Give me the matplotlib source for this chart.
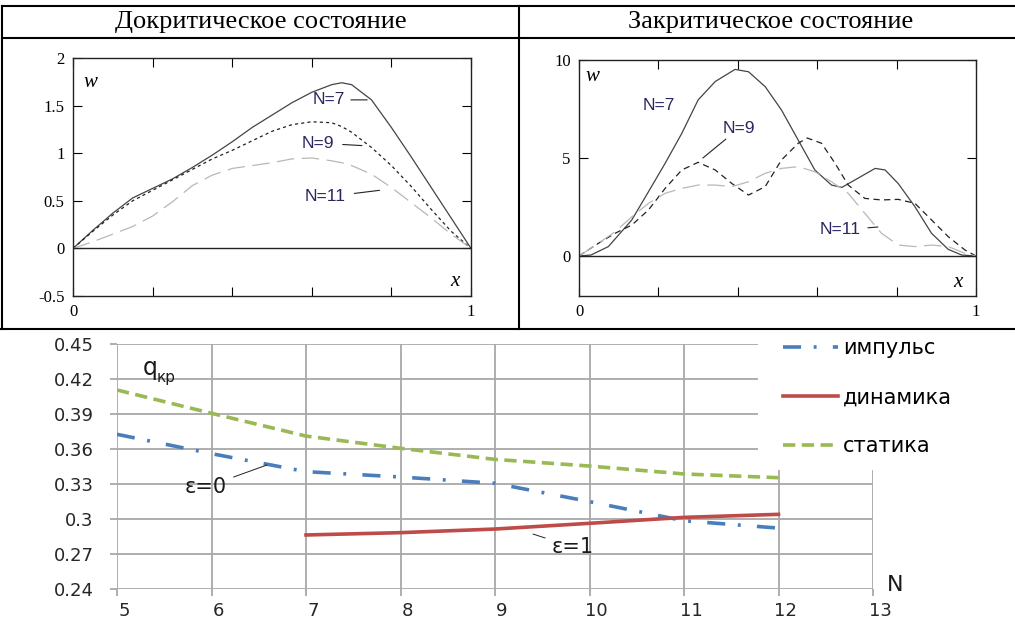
import matplotlib
matplotlib.use("Agg")
import matplotlib.pyplot as plt
from matplotlib.lines import Line2D
from matplotlib.patches import Rectangle
from matplotlib.transforms import ScaledTranslation

# ---------------- data ----------------
# pre-critical state (left top panel)
pre_x = [0, 0.05, 0.1, 0.15, 0.2, 0.25, 0.3, 0.35, 0.4, 0.45, 0.5, 0.55, 0.6, 0.65, 0.675, 0.7, 0.75, 0.8, 0.85, 0.9, 0.95, 1.0]
pre_n7 = [0, 0.19, 0.37, 0.53, 0.63, 0.73, 0.85, 0.98, 1.12, 1.27, 1.40, 1.53, 1.64, 1.72, 1.74, 1.72, 1.56, 1.27, 0.96, 0.64, 0.32, 0]
pre_n9 = [0, 0.18, 0.35, 0.50, 0.61, 0.72, 0.83, 0.94, 1.03, 1.13, 1.23, 1.30, 1.33, 1.32, 1.28, 1.22, 1.06, 0.87, 0.65, 0.41, 0.18, 0]
pre_n11 = [0, 0.07, 0.15, 0.23, 0.34, 0.49, 0.66, 0.77, 0.84, 0.87, 0.90, 0.94, 0.95, 0.92, 0.90, 0.87, 0.78, 0.64, 0.48, 0.32, 0.15, 0]

# post-critical state (right top panel)
post_x7 = [0, 0.03, 0.074, 0.133, 0.175, 0.217, 0.259, 0.30, 0.343, 0.393, 0.427, 0.469, 0.51, 0.552, 0.594, 0.636, 0.662, 0.695, 0.746, 0.771, 0.804, 0.846, 0.888, 0.93, 0.964, 1.0]
post_n7 = [0, 0.05, 0.48, 1.84, 3.28, 4.73, 6.26, 7.96, 8.9, 9.52, 9.4, 8.64, 7.45, 5.92, 4.39, 3.62, 3.5, 3.88, 4.47, 4.39, 3.7, 2.52, 1.16, 0.34, 0.05, 0]
post_x9 = [0, 0.049, 0.091, 0.133, 0.175, 0.217, 0.259, 0.30, 0.343, 0.385, 0.427, 0.469, 0.51, 0.552, 0.575, 0.611, 0.645, 0.678, 0.72, 0.762, 0.804, 0.846, 0.888, 0.93, 0.972, 1.0]
post_n9 = [0, 0.65, 1.16, 1.58, 2.35, 3.45, 4.39, 4.78, 4.39, 3.7, 3.11, 3.54, 4.9, 5.75, 6.02, 5.75, 4.73, 3.62, 2.94, 2.86, 2.89, 2.69, 1.84, 0.99, 0.31, 0]
post_x11 = [0, 0.049, 0.091, 0.133, 0.175, 0.217, 0.259, 0.30, 0.343, 0.385, 0.427, 0.469, 0.51, 0.552, 0.594, 0.636, 0.678, 0.72, 0.762, 0.804, 0.846, 0.888, 0.93, 0.972, 1.0]
post_n11 = [0, 0.65, 1.24, 2.0, 2.69, 3.2, 3.45, 3.62, 3.62, 3.54, 3.79, 4.22, 4.47, 4.56, 4.3, 3.79, 3.2, 2.18, 1.16, 0.56, 0.48, 0.56, 0.48, 0.14, 0]

# critical load vs N (bottom chart)
N_imp = [5, 6, 7, 8, 9, 10, 11, 12]
q_imp = [0.3726, 0.356, 0.3406, 0.336, 0.3306, 0.3149, 0.2985, 0.2922]
N_dyn = [7, 8, 9, 10, 11, 12]
q_dyn = [0.2863, 0.2883, 0.2914, 0.2963, 0.3014, 0.3040]
N_stat = [5, 6, 7, 8, 9, 10, 11, 12]
q_stat = [0.4106, 0.3906, 0.3711, 0.3606, 0.3511, 0.3454, 0.3386, 0.3354]

q_ticks = [0.24, 0.27, 0.30, 0.33, 0.36, 0.39, 0.42, 0.45]
q_ticklabels = ["0.24", "0.27", "0.3", "0.33", "0.36", "0.39", "0.42", "0.45"]
N_ticks = [5, 6, 7, 8, 9, 10, 11, 12, 13]

legend_labels = ["импульс", "динамика", "статика"]
titles = ["Докритическое состояние", "Закритическое состояние"]

# ---------------- layout helpers ----------------
W, H = 1015, 619
fig = plt.figure(figsize=(W / 100, H / 100), dpi=100)
fig.patch.set_facecolor("white")


def rect(l, t, r, b):
    return [l / W, 1 - b / H, (r - l) / W, (b - t) / H]


def fline(x0, y0, x1, y1, lw=1.5):
    fig.add_artist(Line2D([x0 / W, x1 / W], [1 - y0 / H, 1 - y1 / H],
                          transform=fig.transFigure, color="black", lw=lw, zorder=10))


# table frame
fline(2, 6, 1015, 6)
fline(2, 38, 1015, 38)
fline(0, 329, 1015, 329)
fline(2, 6, 2, 329)
fline(519, 6, 519, 329)

serif = "Liberation Serif"
fig.text(261 / W, 1 - 22 / H, titles[0], ha="center", va="center", family=serif, fontsize=19)
fig.text(771 / W, 1 - 22 / H, titles[1], ha="center", va="center", family=serif, fontsize=19)

label_col = "#2a2660"


def style_top(ax, ylim, yticks, yticklabels):
    ax.set_xlim(0, 1)
    ax.set_ylim(*ylim)
    ax.set_xticks([0, 0.2, 0.4, 0.6, 0.8, 1.0])
    ax.set_xticklabels(["0", "", "", "", "", "1"])
    ax.set_yticks(yticks)
    ax.set_yticklabels(yticklabels)
    ax.tick_params(direction="in", length=6.5, width=0.8, top=True, right=True,
                   labelsize=12, pad=6)
    for lab in ax.get_xticklabels() + ax.get_yticklabels():
        lab.set_family(serif)
    for s in ax.spines.values():
        s.set_linewidth(1.0)
        s.set_color("#222222")
    ax.axhline(0, color="#222222", lw=1.0)


# ---------------- top-left ----------------
ax1 = fig.add_axes(rect(73, 58, 471, 296))
ax1.plot(pre_x, pre_n7, color="#444444", lw=0.9)
ax1.plot(pre_x, pre_n9, color="#222222", lw=0.9, linestyle=(0, (2.5, 2.5)))
ax1.plot(pre_x, pre_n11, color="#b8b8b8", lw=0.9, linestyle=(0, (14, 6)))
style_top(ax1, (-0.5, 2), [-0.5, 0, 0.5, 1, 1.5, 2], ["-0.5", "0", "0.5", "1", "1.5", "2"])
ax1.text(0.043, 0.899, "w", transform=ax1.transAxes, family=serif, style="italic",
         fontsize=15, ha="center", va="center")
ax1.text(0.96, 0.059, "x", transform=ax1.transAxes, family=serif, style="italic",
         fontsize=15, ha="center", va="center")
ax1.annotate("N=7", xy=(0.739, 1.56), xytext=(0.603, 1.56), va="center", ha="left",
             fontsize=12.5, color=label_col, family="Liberation Sans",
             arrowprops=dict(arrowstyle="-", color="#222222", lw=0.8, shrinkA=2, shrinkB=0))
ax1.annotate("N=9", xy=(0.726, 1.08), xytext=(0.575, 1.106), va="center", ha="left",
             fontsize=12.5, color=label_col, family="Liberation Sans",
             arrowprops=dict(arrowstyle="-", color="#222222", lw=0.8, shrinkA=4, shrinkB=0))
ax1.annotate("N=11", xy=(0.77, 0.61), xytext=(0.583, 0.54), va="center", ha="left",
             fontsize=12.5, color=label_col, family="Liberation Sans",
             arrowprops=dict(arrowstyle="-", color="#222222", lw=0.8, shrinkA=4, shrinkB=0))

# ---------------- top-right ----------------
ax2 = fig.add_axes(rect(579, 60, 976, 296))
ax2.plot(post_x7, post_n7, color="#444444", lw=0.9)
ax2.plot(post_x9, post_n9, color="#222222", lw=0.9, linestyle=(0, (5, 3.5)))
ax2.plot(post_x11, post_n11, color="#b8b8b8", lw=0.9, linestyle=(0, (14, 6)))
style_top(ax2, (-2.04, 10), [0, 5, 10], ["0", "5", "10"])
ax2.text(0.035, 0.928, "w", transform=ax2.transAxes, family=serif, style="italic",
         fontsize=15, ha="center", va="center")
ax2.text(0.955, 0.059, "x", transform=ax2.transAxes, family=serif, style="italic",
         fontsize=15, ha="center", va="center")
ax2.text(0.161, 7.7, "N=7", va="center", ha="left", fontsize=12.5, color=label_col,
         family="Liberation Sans")
ax2.annotate("N=9", xy=(0.312, 5.0), xytext=(0.363, 6.53), va="center", ha="left",
             fontsize=12.5, color=label_col, family="Liberation Sans",
             arrowprops=dict(arrowstyle="-", color="#222222", lw=0.8, shrinkA=1, shrinkB=0))
ax2.annotate("N=11", xy=(0.753, 1.48), xytext=(0.607, 1.33), va="center", ha="left",
             fontsize=12.5, color=label_col, family="Liberation Sans",
             arrowprops=dict(arrowstyle="-", color="#222222", lw=0.8, shrinkA=3, shrinkB=0))

# ---------------- bottom chart ----------------
grid_col = "#a8a8a8"
ax3 = fig.add_axes(rect(117, 344, 873, 589))
ax3.set_xlim(5, 13)
ax3.set_ylim(0.24, 0.45)
ax3.set_xticks(N_ticks)
ax3.set_xticklabels([str(n) for n in N_ticks])
ax3.set_yticks(q_ticks)
ax3.set_yticklabels(q_ticklabels)
ax3.set_axisbelow(True)
ax3.grid(True, color=grid_col, lw=1.3)
for s in ax3.spines.values():
    s.set_visible(False)
ax3.tick_params(axis="both", length=5, width=1.3, color=grid_col, labelsize=13,
                labelcolor="#262626")
ax3.tick_params(axis="y", pad=12)
ax3.tick_params(axis="x", pad=4)
for lab in ax3.get_xticklabels():
    lab.set_transform(lab.get_transform() + ScaledTranslation(0.07, 0, fig.dpi_scale_trans))

# white area behind the legend (hides grid there)
ax3.add_patch(Rectangle((758 / W, 1 - 470 / H), (1015 - 758) / W, (470 - 330) / H,
                        transform=fig.transFigure, facecolor="white", edgecolor="none",
                        zorder=1, clip_on=False))

l_imp, = ax3.plot(N_imp, q_imp, color="#4a7ebb", lw=2.6, linestyle=(0, (5, 3.5, 0.8, 4.5)),
                  label=legend_labels[0], zorder=3)
l_dyn, = ax3.plot(N_dyn, q_dyn, color="#be4b48", lw=2.6, label=legend_labels[1], zorder=3)
l_stat, = ax3.plot(N_stat, q_stat, color="#98b954", lw=2.6, linestyle=(0, (3.4, 1.8)),
                   label=legend_labels[2], zorder=3)

ax3.legend(handles=[l_imp, l_dyn, l_stat], loc="upper left",
           bbox_to_anchor=(783 / W, 1 - 338 / H), bbox_transform=fig.transFigure,
           frameon=False, fontsize=15, handlelength=2.64, handletextpad=0.24,
           labelspacing=1.4, borderpad=0, borderaxespad=0)

txt_col = "#1a1a1a"
ax3.text(5.275, 0.4234, "q", fontsize=17, color=txt_col, ha="left", va="baseline")
ax3.text(5.423, 0.4175, "кр", fontsize=11, color=txt_col, ha="left", va="baseline")
ax3.annotate("ε=0", xy=(6.587, 0.3463), xytext=(5.94, 0.3274), fontsize=15, color=txt_col,
             ha="center", va="center",
             arrowprops=dict(arrowstyle="-", color="#222222", lw=0.7, shrinkA=3, shrinkB=0))
ax3.annotate("ε=1", xy=(9.402, 0.2871), xytext=(9.825, 0.276), fontsize=15, color=txt_col,
             ha="center", va="center",
             arrowprops=dict(arrowstyle="-", color="#222222", lw=0.7, shrinkA=3, shrinkB=0))
ax3.text(13.23, 0.2434, "N", fontsize=16, color=txt_col, ha="center", va="center",
         clip_on=False)

fig.savefig("out.png", dpi=100, facecolor="white")
